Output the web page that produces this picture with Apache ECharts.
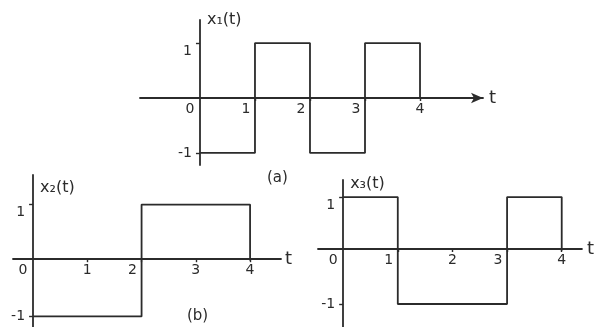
<!DOCTYPE html>
<html>
<head>
<meta charset="utf-8">
<script src="https://cdn.jsdelivr.net/npm/echarts@6/dist/echarts.min.js"></script>
<style>
  html, body { margin: 0; padding: 0; background: #fff; }
  #main { width: 595px; height: 327px; }
</style>
</head>
<body>
<div id="main"></div>
<script>
// signal edges: value holds from t[i] to t[i+1]
var tA = [0, 1, 2, 3, 4];
var xA = [-1, 1, -1, 1, 0];
var tB1 = [0, 2, 4];
var xB1 = [-1, 1, 0];
var tB2 = [0, 1, 3, 4];
var xB2 = [1, -1, 1, 0];

var xTicks = [0, 1, 2, 3, 4];
var yTicks = [-1, 1];
var names = ['x\u2081(t)', 'x\u2082(t)', 'x\u2083(t)'];

var ink = '#2b2b2b';
var font = 'DejaVu Sans';

// grid boxes and axis ranges of the three panels
var grids = [
    { left: 140, top: 20, width: 343, height: 145 },
    { left: 13, top: 175, width: 268, height: 155 },
    { left: 318, top: 180, width: 264, height: 150 }
];
var xRange = [[-1.09, 5.145], [-0.37, 4.57], [-0.46, 4.37]];
var yRange = [[-1.22, 1.42], [-1.19, 1.53], [-1.43, 1.32]];

function pairs(t, v) {
    var out = [];
    for (var i = 0; i < t.length; i++) out.push([t[i], v[i]]);
    return out;
}

function xLabelFmt(edges) {
    return function (v) {
        if (v === 0) return '{z|0}';
        if (edges.indexOf(v) > 0 && edges.indexOf(v) < edges.length - 1) return '{l|' + v + '}';
        return '{n|' + v + '}';
    };
}

function yLabelFmt(v) {
    return v === 1 ? '{d|1}' : '{n|' + v + '}';
}

var rich = {
    z: { padding: [0, 20, 0, 0], fontSize: 14, fontFamily: font, color: ink },
    l: { padding: [0, 18, 0, 0], fontSize: 14, fontFamily: font, color: ink },
    n: { fontSize: 14, fontFamily: font, color: ink },
    d: { padding: [16, 0, 0, 0], fontSize: 14, fontFamily: font, color: ink }
};

function xAxisOf(idx, edges, arrow, gap) {
    var r = xRange[idx], ry = yRange[idx], g = grids[idx];
    // move the axis up to y = 0
    var off = -(0 - ry[0]) / (ry[1] - ry[0]) * g.height;
    return {
        type: 'value', gridIndex: idx, min: r[0], max: r[1], position: 'bottom', offset: off,
        name: 't', nameLocation: 'end', nameGap: gap,
        nameTextStyle: { fontSize: 18, fontFamily: font, color: ink, padding: [8, 0, 0, 0] },
        splitLine: { show: false },
        axisLine: { onZero: false, lineStyle: { color: ink, width: 1.8 },
            symbol: arrow ? ['none', 'arrow'] : ['none', 'none'], symbolSize: [8, 12] },
        axisTick: { show: true, customValues: [1, 2, 3, 4], length: 3, lineStyle: { color: ink, width: 1.4 } },
        axisLabel: { customValues: xTicks, margin: 4, formatter: xLabelFmt(edges), rich: rich }
    };
}

function yAxisOf(idx, gap) {
    var r = yRange[idx], rx = xRange[idx], g = grids[idx];
    // move the axis right to t = 0
    var off = -(0 - rx[0]) / (rx[1] - rx[0]) * g.width;
    return {
        type: 'value', gridIndex: idx, min: r[0], max: r[1], position: 'left', offset: off,
        name: names[idx], nameLocation: 'end', nameGap: gap,
        nameTextStyle: { fontSize: 16, fontFamily: font, color: ink, align: 'left', verticalAlign: 'middle', padding: [0, 0, 0, 7] },
        splitLine: { show: false },
        axisLine: { onZero: false, lineStyle: { color: ink, width: 1.8 } },
        axisTick: { show: true, customValues: yTicks, length: 4, lineStyle: { color: ink, width: 1.4 } },
        axisLabel: { customValues: yTicks, margin: 8, formatter: yLabelFmt, rich: rich }
    };
}

function sig(idx, t, v) {
    return {
        type: 'line', xAxisIndex: idx, yAxisIndex: idx, step: 'end',
        data: pairs(t, v), symbol: 'none', silent: true,
        lineStyle: { color: ink, width: 1.8 }
    };
}

var myChart = echarts.init(document.getElementById('main'));
var option = {
    backgroundColor: '#fff',
    animation: false,
    grid: grids,
    xAxis: [
        xAxisOf(0, tA, true, 6),
        xAxisOf(1, tB1, false, 4),
        xAxisOf(2, tB2, false, 5)
    ],
    yAxis: [
        yAxisOf(0, 0),
        yAxisOf(1, -13),
        yAxisOf(2, -4)
    ],
    series: [
        sig(0, tA, xA),
        sig(1, tB1, xB1),
        sig(2, tB2, xB2)
    ],
    graphic: [
        { type: 'text', left: 267, top: 171, style: { text: '(a)', fontSize: 15, fontFamily: font, fill: ink } },
        { type: 'text', left: 187, top: 309, style: { text: '(b)', fontSize: 15, fontFamily: font, fill: ink } }
    ]
};
myChart.setOption(option);
</script>
</body>
</html>
